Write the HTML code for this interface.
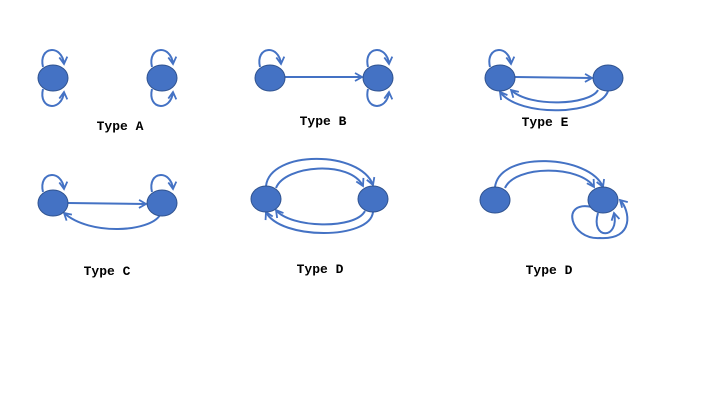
<!DOCTYPE html>
<html><head><meta charset="utf-8"><style>
html,body{margin:0;padding:0;background:#fff;}
svg{display:block;}
text{font-family:"Liberation Mono",monospace;font-weight:bold;font-size:13px;fill:#000;}
</style></head><body>
<svg width="720" height="405" viewBox="0 0 720 405" xmlns="http://www.w3.org/2000/svg">
<defs>
<marker id="a" markerUnits="userSpaceOnUse" markerWidth="12" markerHeight="12" refX="8" refY="5" orient="auto">
<path d="M1,1 L8,5 L1,9" fill="none" stroke="#4472C4" stroke-width="1.8"/>
</marker>
</defs>
<g fill="none" stroke="#4472C4" stroke-width="2" marker-end="url(#a)">
<!-- Type A -->
<path d="M43,67 C38,46 62,44 64,64"/>
<path d="M43,89 C38,110 62,112 64,92"/>
<path d="M152,67 C147,46 171,44 173,64"/>
<path d="M152,89 C147,110 171,112 173,92"/>
<!-- Type B -->
<path d="M260,67 C255,46 279,44 281,64"/>
<path d="M285,77 L362,77"/>
<path d="M368,67 C363,46 387,44 389,64"/>
<path d="M368,89 C363,110 387,112 389,92"/>
<!-- Type E -->
<path d="M490,67 C485,46 509,44 511,64"/>
<path d="M515,77 L592,78"/>
<path d="M598,90 C590,105 530,108 511,90"/>
<path d="M608,91 C600,115 520,118 500,92"/>
<!-- Type C -->
<path d="M43,192 C38,171 62,169 64,189"/>
<path d="M152,192 C147,171 171,169 173,189"/>
<path d="M68,203 L146,204"/>
<path d="M160,215 C150,232 90,236 64,213"/>
<!-- Type D -->
<path d="M266,186 C270,150 360,150 373,185"/>
<path d="M276,188 C285,165 350,160 363,186"/>
<path d="M365,211 C355,230 290,228 276,210"/>
<path d="M373,212 C370,240 280,240 266,212"/>
<!-- Type D2 -->
<path d="M495,187 C500,150 590,155 603,187"/>
<path d="M505,188 C515,165 580,165 594,187"/>
<path d="M598,213 C590,240 620,240 614,213"/>
<path d="M592,207 C560,200 570,240 600,238 C635,240 630,210 620,200"/>
</g>
<g fill="#4472C4" stroke="#2F528F" stroke-width="1">
<ellipse cx="53" cy="78" rx="15" ry="13"/>
<ellipse cx="162" cy="78" rx="15" ry="13"/>
<ellipse cx="270" cy="78" rx="15" ry="13"/>
<ellipse cx="378" cy="78" rx="15" ry="13"/>
<ellipse cx="500" cy="78" rx="15" ry="13"/>
<ellipse cx="608" cy="78" rx="15" ry="13"/>
<ellipse cx="53" cy="203" rx="15" ry="13"/>
<ellipse cx="162" cy="203" rx="15" ry="13"/>
<ellipse cx="266" cy="199" rx="15" ry="13"/>
<ellipse cx="373" cy="199" rx="15" ry="13"/>
<ellipse cx="495" cy="200" rx="15" ry="13"/>
<ellipse cx="603" cy="200" rx="15" ry="13"/>
</g>
<text x="120" y="130" text-anchor="middle">Type A</text>
<text x="323" y="125" text-anchor="middle">Type B</text>
<text x="545" y="126" text-anchor="middle">Type E</text>
<text x="107" y="275" text-anchor="middle">Type C</text>
<text x="320" y="273" text-anchor="middle">Type D</text>
<text x="549" y="274" text-anchor="middle">Type D</text>
</svg>
</body></html>
